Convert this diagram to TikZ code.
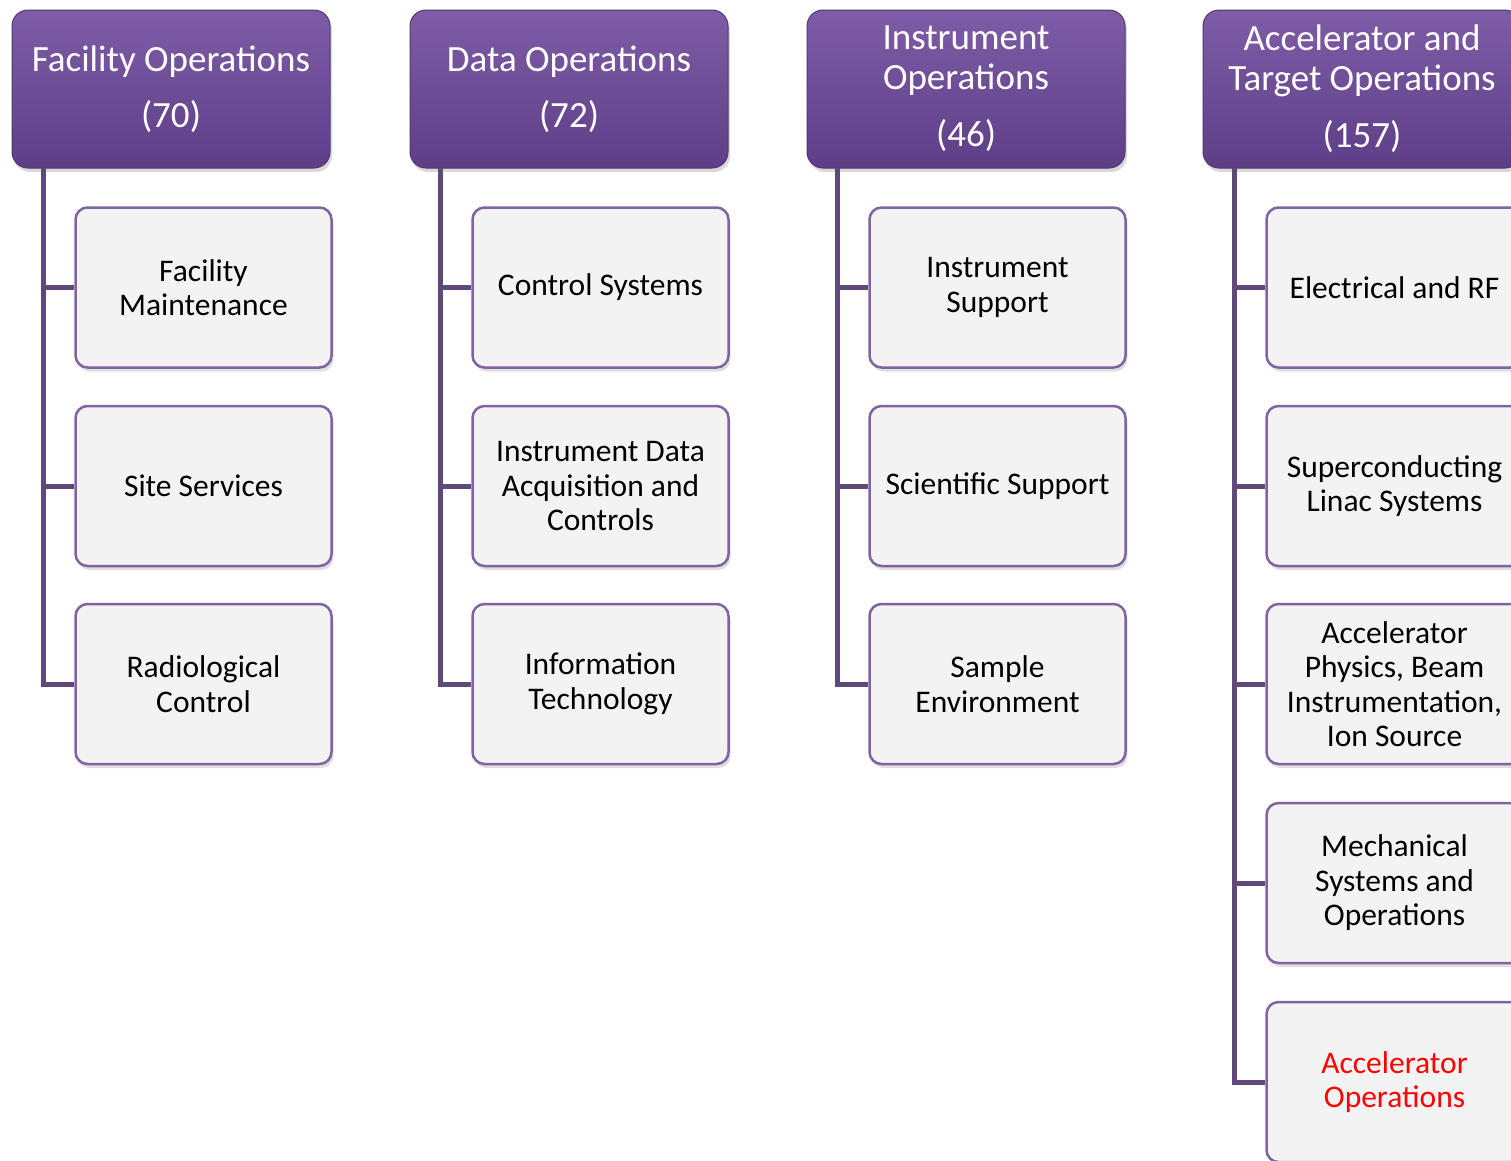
\documentclass[tikz,border=0pt]{standalone}
\usepackage{fontspec}
\setmainfont{Carlito}
\usetikzlibrary{shadows}
\definecolor{hdtop}{HTML}{7E5DA6}
\definecolor{hdbot}{HTML}{5E3E86}
\definecolor{trunk}{HTML}{5F497A}
\definecolor{cbord}{HTML}{8064A2}
\definecolor{cfill}{HTML}{F3F3F3}
\begin{document}
\begin{tikzpicture}[x=1pt,y=-1pt,
  header/.style={rectangle, rounded corners=16pt, minimum width=318pt, minimum height=158pt,
    top color=hdtop, bottom color=hdbot, draw=hdbot!85!black, line width=1pt, text=white,
    font=\fontsize{37}{40}\selectfont, align=center,
    drop shadow={opacity=0.3, shadow xshift=2pt, shadow yshift=-4pt}},
  child/.style={rectangle, rounded corners=12pt, minimum width=256pt, minimum height=160pt,
    fill=cfill, draw=cbord, line width=2.5pt, font=\fontsize{31.5}{34.5}\selectfont, align=center,
    drop shadow={opacity=0.25, shadow xshift=2pt, shadow yshift=-4pt}},
  link/.style={trunk, line width=5pt}]
\useasboundingbox (0,0) rectangle (1511,1160);
\begin{scope}
\clip (0,0) rectangle (1511,1160);
% headers
\node[header] (h1) at (171,89) {Facility Operations\\[16pt](70)};
\node[header] (h2) at (569,89) {Data Operations\\[16pt](72)};
\node[header] (h3) at (966,89) {Instrument\\Operations\\[17pt](46)};
\node[header] (h4) at (1362,89) {Accelerator and\\Target Operations\\[17pt](157)};
% trunk tops
\coordinate (t1) at (43,168);
\coordinate (t2) at (440,168);
\coordinate (t3) at (837,168);
\coordinate (t4) at (1234,168);
% children column 1
\node[child] (c11) at (203.5,287.5) {Facility\\Maintenance};
\node[child] (c12) at (203.5,486) {Site Services};
\node[child] (c13) at (203.5,684) {Radiological\\Control};
% column 2
\node[child] (c21) at (600.5,287.5) {Control Systems};
\node[child] (c22) at (600.5,486) {Instrument Data\\Acquisition and\\Controls};
\node[child] (c23) at (600.5,684) {Information\\Technology};
% column 3
\node[child] (c31) at (997.5,287.5) {Instrument\\Support};
\node[child] (c32) at (997.5,486) {Scientific Support};
\node[child] (c33) at (997.5,684) {Sample\\Environment};
% column 4
\node[child] (c41) at (1394.5,287.5) {Electrical and RF};
\node[child] (c42) at (1394.5,486) {Superconducting\\Linac Systems};
\node[child] (c43) at (1394.5,684) {Accelerator\\Physics, Beam\\Instrumentation,\\Ion Source};
\node[child] (c44) at (1394.5,883) {Mechanical\\Systems and\\Operations};
\node[child, text=red] (c45) at (1394.5,1082) {Accelerator\\Operations};
% connectors
\draw[link] (t1) |- (c13.west);
\draw[link] (t1 |- c11.west) -- (c11.west);
\draw[link] (t1 |- c12.west) -- (c12.west);
\draw[link] (t2) |- (c23.west);
\draw[link] (t2 |- c21.west) -- (c21.west);
\draw[link] (t2 |- c22.west) -- (c22.west);
\draw[link] (t3) |- (c33.west);
\draw[link] (t3 |- c31.west) -- (c31.west);
\draw[link] (t3 |- c32.west) -- (c32.west);
\draw[link] (t4) |- (c45.west);
\draw[link] (t4 |- c41.west) -- (c41.west);
\draw[link] (t4 |- c42.west) -- (c42.west);
\draw[link] (t4 |- c43.west) -- (c43.west);
\draw[link] (t4 |- c44.west) -- (c44.west);
\end{scope}
\end{tikzpicture}
\end{document}
